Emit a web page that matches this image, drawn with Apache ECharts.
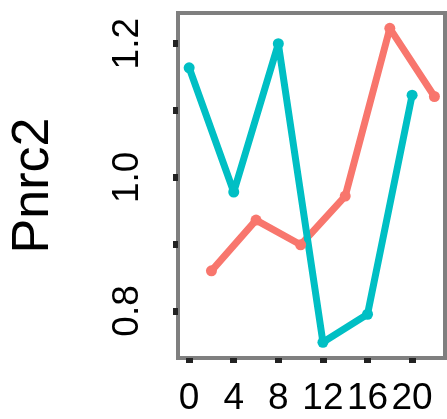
<!DOCTYPE html>
<html>
<head>
<meta charset="utf-8">
<script src="https://cdn.jsdelivr.net/npm/echarts@6/dist/echarts.min.js"></script>
<style>
  html, body { margin: 0; padding: 0; background: #fff; }
  #chart { width: 447px; height: 419px; }
</style>
</head>
<body>
<div id="chart"></div>
<script>
// values
var redTimes = [2, 6, 10, 14, 18, 22];
var redValues = [0.86, 0.936, 0.899, 0.972, 1.223, 1.121];
var tealTimes = [0, 4, 8, 12, 16, 20];
var tealValues = [1.164, 0.978, 1.2, 0.753, 0.795, 1.123];
var xTicks = [0, 4, 8, 12, 16, 20];
var yTicks = [0.8, 0.9, 1.0, 1.1, 1.2];
var yLabels = [0.8, 1.0, 1.2];

function pairs(xs, ys) {
    return xs.map(function (x, i) { return [x, ys[i]]; });
}

var chart = echarts.init(document.getElementById('chart'));

chart.setOption({
    animation: false,
    grid: {
        left: 178, top: 13, width: 267, height: 345,
        show: true, borderColor: '#7f7f7f', borderWidth: 4, backgroundColor: '#fff'
    },
    xAxis: {
        type: 'value', min: -1.0, max: 22.95,
        splitLine: { show: false },
        axisLine: { show: false, onZero: false },
        axisTick: { show: true, length: 5, customValues: xTicks, lineStyle: { color: '#222', width: 7 } },
        axisLabel: { customValues: xTicks, fontFamily: 'Liberation Sans', fontSize: 37, color: '#000', margin: 22 }
    },
    yAxis: {
        type: 'value', min: 0.7295, max: 1.246,
        name: 'Pnrc2', nameLocation: 'middle', nameRotate: 90, nameGap: 118,
        nameTextStyle: { fontFamily: 'Liberation Sans', fontSize: 52, color: '#000' },
        splitLine: { show: false },
        axisLine: { show: false, onZero: false },
        axisTick: { show: true, length: 5, customValues: yTicks, lineStyle: { color: '#222', width: 7 } },
        axisLabel: {
            customValues: yLabels, rotate: 90, fontFamily: 'Liberation Sans', fontSize: 37,
            color: '#000', margin: 32,
            formatter: function (v) { return v.toFixed(1); }
        }
    },
    series: [
        {
            type: 'line', data: pairs(redTimes, redValues),
            symbol: 'circle', symbolSize: 11,
            itemStyle: { color: '#F8766D' },
            lineStyle: { color: '#F8766D', width: 7 }
        },
        {
            type: 'line', data: pairs(tealTimes, tealValues),
            symbol: 'circle', symbolSize: 11,
            itemStyle: { color: '#00BFC4' },
            lineStyle: { color: '#00BFC4', width: 7 }
        }
    ]
});
</script>
</body>
</html>
